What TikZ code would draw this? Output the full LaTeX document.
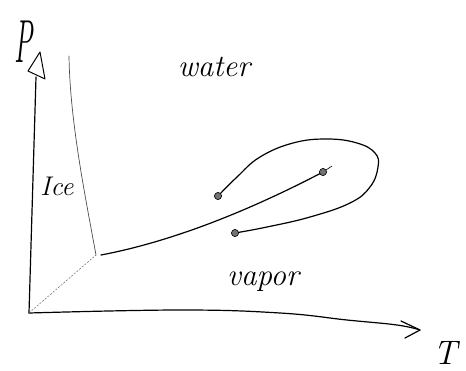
\documentclass[tikz,border=0pt]{standalone}
\usepackage{graphicx}
\begin{document}
\begin{tikzpicture}[x=1pt,y=-1pt,
  axis/.style={line width=1.2pt, line cap=round, line join=round},
  curve/.style={line width=1.2pt, line cap=round, line join=round},
  meltline/.style={line width=0.7pt, black!70, line cap=round},
  guide/.style={line width=0.5pt, black!60, dash pattern=on 2pt off 1.5pt},
  endpt/.style={circle, fill=black!55, draw=black, line width=0.5pt, inner sep=0pt, minimum width=7pt},
  lbl/.style={inner sep=0pt, anchor=base, font=\fontsize{31}{33}\selectfont\itshape}]
\useasboundingbox (0,0) rectangle (466,370);
% axes
\coordinate (O) at (29,313);
\coordinate (Pbase) at (36,77);
\coordinate (Pa) at (40,52);
\coordinate (Pl) at (28,71);
\coordinate (Pr) at (45,79);
\coordinate (Ttip) at (420,330);
\coordinate (Tu) at (401,321);
\coordinate (Tl) at (405,338);
\draw[axis] (O) -- (Pbase);
\draw[axis, line width=1pt] (Pa) -- (Pl) -- (Pr) -- cycle;
\draw[axis] plot[smooth, tension=0.7] coordinates {(O) (180,310) (280,313) (347,320) (397,325) (Ttip)};
\draw[axis] (Tu) -- (Ttip) -- (Tl);
% triple point and lines
\coordinate (TP) at (96,255);
\coordinate (VS) at (101,255);
\coordinate (MT) at (69,56);
\draw[guide] (O) -- (TP);
\draw[meltline] (TP) .. controls (84,190) and (70,120) .. (MT);
% end points
\node[endpt] (A) at (218,196) {};
\node[endpt] (C) at (323,172) {};
\node[endpt] (B) at (235,233) {};
\coordinate (Ctail) at (332,166);
% vapour pressure curve
\draw[curve] (VS) .. controls (180,240) and (260,205) .. (C.center);
\draw[line width=0.6pt] (C.center) -- (Ctail);
% path around the critical point
\draw[curve] plot[smooth, tension=0.7] coordinates {(A.center) (237,177) (260,157) (293,143) (327,139) (357,143) (375,153) (378,167) (370,187) (350,203) (310,217) (267,227) (B.center)};
\node[endpt] at (A) {};
\node[endpt] at (C) {};
\node[endpt] at (B) {};
% labels
\node[lbl] (water) at (214,76) {water};
\node[lbl] (vapor) at (263,285) {vapor};
\node[lbl, font=\fontsize{27}{29}\selectfont\itshape] (ice) at (57,195) {Ice};
\node[lbl, font=\fontsize{32}{34}\selectfont\itshape] (P) at (24,62) {\scalebox{0.85}[1.9]{P}};
\node[lbl, font=\fontsize{34}{36}\selectfont\itshape] (T) at (445,364) {T};
\end{tikzpicture}
\end{document}
